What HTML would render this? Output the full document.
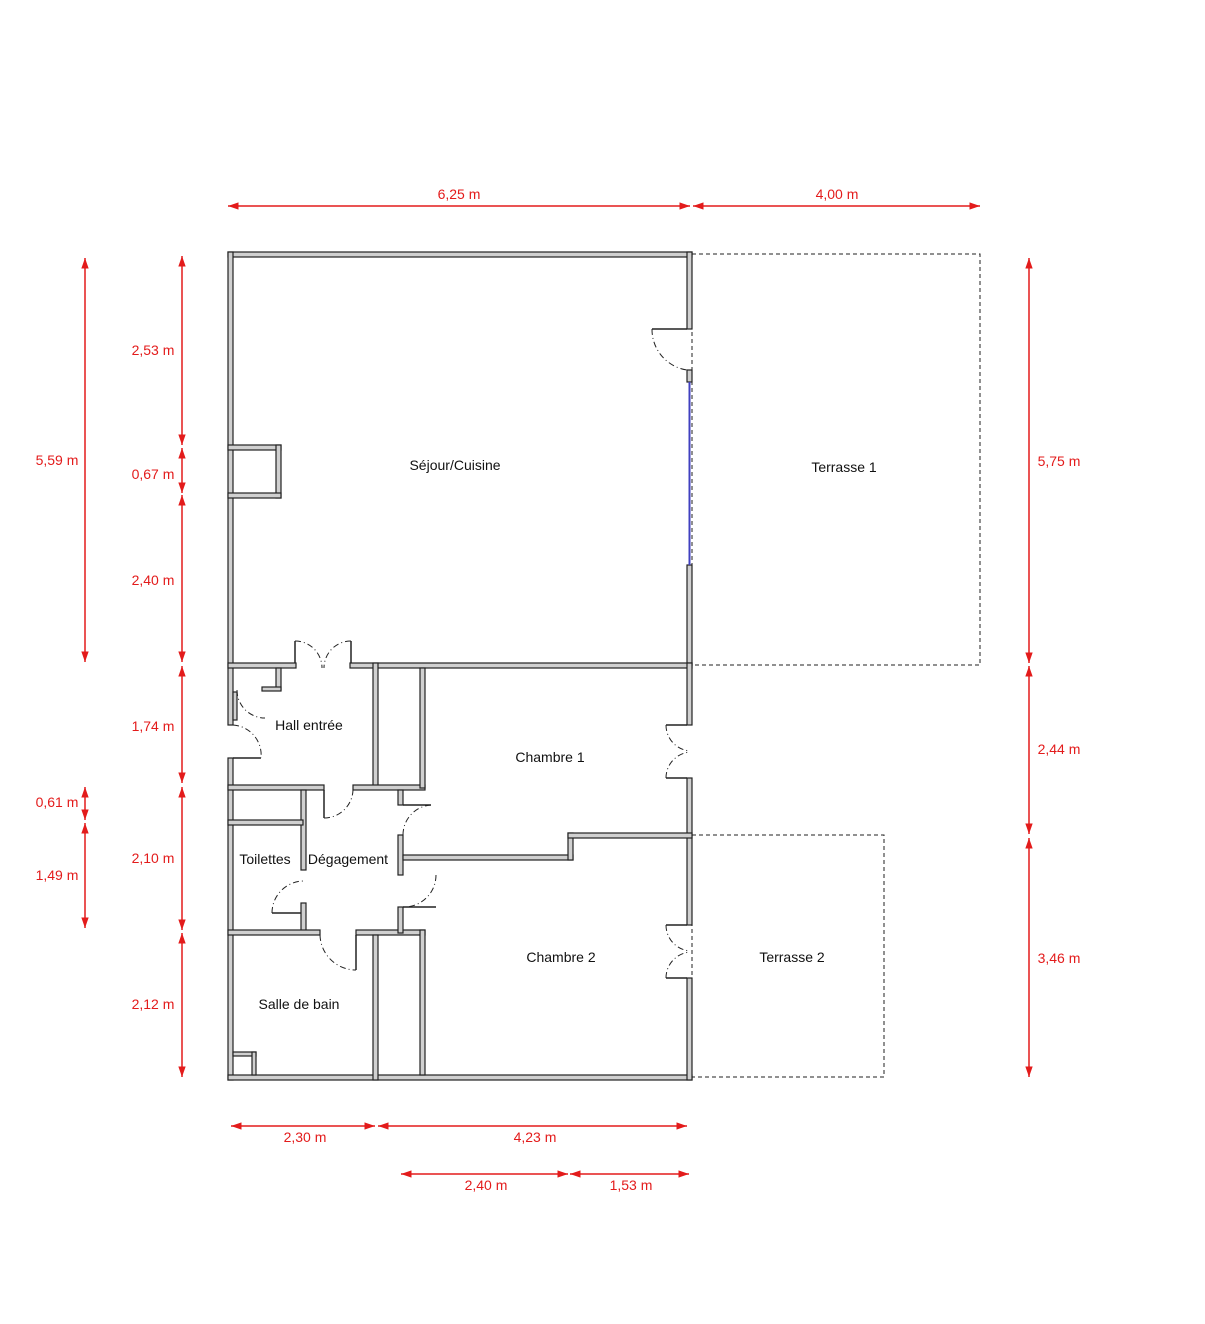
<!DOCTYPE html>
<html><head><meta charset="utf-8"><style>
html,body{margin:0;padding:0;background:#fff;}
svg{display:block;}
text{font-family:"Liberation Sans",sans-serif;font-size:14px;}
.d{fill:#e31b1b;}
</style></head><body>
<svg width="1205" height="1324" viewBox="0 0 1205 1324" xmlns="http://www.w3.org/2000/svg">
<defs>
<marker id="a" viewBox="0 0 10 10" refX="10" refY="5" markerWidth="7" markerHeight="7" orient="auto-start-reverse"><path d="M0,1.5 L10,5 L0,8.5 z" fill="#e31b1b"/></marker>
</defs>
<g fill="none" stroke="#222" stroke-dasharray="4,3" stroke-width="1">
<rect x="692" y="254" width="288" height="411"/>
<rect x="692" y="835" width="192" height="242"/>
</g>
<g fill="#d0d0d0" stroke="#222" stroke-width="1.2">
<rect x="228" y="252" width="464" height="5"/>
<rect x="228" y="252" width="5" height="473"/>
<rect x="228" y="758" width="5" height="322"/>
<rect x="228" y="1075" width="464" height="5"/>
<rect x="687" y="252" width="5" height="77"/>
<rect x="687" y="370" width="5" height="12"/>
<rect x="687" y="565" width="5" height="100"/>
<rect x="228" y="445" width="53" height="5"/>
<rect x="276" y="445" width="5" height="53"/>
<rect x="228" y="493" width="53" height="5"/>
<rect x="228" y="663" width="68" height="5"/>
<rect x="350" y="663" width="342" height="5"/>
<rect x="276" y="668" width="5" height="22"/>
<rect x="262" y="687" width="19" height="4"/>
<rect x="233" y="692" width="4" height="28"/>
<rect x="687" y="663" width="5" height="62"/>
<rect x="687" y="778" width="5" height="147"/>
<rect x="687" y="978" width="5" height="102"/>
<rect x="373" y="663" width="5" height="125"/>
<rect x="228" y="785" width="96" height="5"/>
<rect x="353" y="785" width="72" height="5"/>
<rect x="420" y="668" width="5" height="120"/>
<rect x="301" y="790" width="5" height="80"/>
<rect x="301" y="903" width="5" height="30"/>
<rect x="228" y="820" width="75" height="5"/>
<rect x="228" y="930" width="92" height="5"/>
<rect x="356" y="930" width="69" height="5"/>
<rect x="398" y="790" width="5" height="15"/>
<rect x="398" y="835" width="5" height="40"/>
<rect x="398" y="907" width="5" height="26"/>
<rect x="403" y="855" width="170" height="5"/>
<rect x="568" y="833" width="5" height="27"/>
<rect x="568" y="833" width="124" height="5"/>
<rect x="373" y="935" width="5" height="145"/>
<rect x="420" y="930" width="5" height="145"/>
<rect x="233" y="1052" width="23" height="4"/>
<rect x="252" y="1052" width="4" height="23"/>
</g>
<line x1="689.5" y1="382" x2="689.5" y2="565" stroke="#4040c0" stroke-width="2"/>
<g stroke="#222" stroke-width="1.5" fill="none">
<line x1="652" y1="329" x2="687" y2="329"/>
<line x1="295" y1="641" x2="295" y2="663"/><line x1="351" y1="641" x2="351" y2="663"/>
<line x1="233" y1="758" x2="261" y2="758"/>
<line x1="324" y1="790" x2="324" y2="818"/>
<line x1="403" y1="805" x2="431" y2="805"/>
<line x1="403" y1="907" x2="436" y2="907"/>
<line x1="272" y1="913" x2="301" y2="913"/>
<line x1="356" y1="935" x2="356" y2="970"/>
<line x1="666" y1="725" x2="687" y2="725"/><line x1="666" y1="778" x2="687" y2="778"/>
<line x1="666" y1="925" x2="687" y2="925"/><line x1="666" y1="978" x2="687" y2="978"/>
</g>
<g stroke="#222" stroke-width="1" fill="none" stroke-dasharray="6,3,1,3">
<path d="M652,329 A41,41 0 0 0 687,370"/>
<path d="M295,641 A27,27 0 0 1 322,668"/><path d="M351,641 A27,27 0 0 0 324,668"/>
<path d="M233,725 A30,30 0 0 1 261,758"/>
<path d="M324,818 A29,29 0 0 0 353,790"/>
<path d="M431,805 A30,30 0 0 0 403,835"/>
<path d="M436,875 A32,32 0 0 1 403,907"/>
<path d="M272,913 A32,32 0 0 1 304,881"/>
<path d="M320,935 A36,36 0 0 0 356,970"/>
<path d="M666,725 A26,26 0 0 0 690,751"/><path d="M666,778 A26,26 0 0 1 690,752"/>
<path d="M666,925 A26,26 0 0 0 690,951"/><path d="M666,978 A26,26 0 0 1 690,952"/>
<path d="M237,690 A28,28 0 0 0 265,718"/>
</g>
<g fill="#111">
<text x="455" y="470" text-anchor="middle">Séjour/Cuisine</text>
<text x="844" y="472" text-anchor="middle">Terrasse 1</text>
<text x="309" y="730" text-anchor="middle">Hall entrée</text>
<text x="550" y="762" text-anchor="middle">Chambre 1</text>
<text x="265" y="864" text-anchor="middle">Toilettes</text>
<text x="348" y="864" text-anchor="middle">Dégagement</text>
<text x="561" y="962" text-anchor="middle">Chambre 2</text>
<text x="792" y="962" text-anchor="middle">Terrasse 2</text>
<text x="299" y="1009" text-anchor="middle">Salle de bain</text>
</g>
<g stroke="#e31b1b" stroke-width="1.5" marker-start="url(#a)" marker-end="url(#a)">
<line x1="228" y1="206" x2="690" y2="206"/>
<line x1="693" y1="206" x2="980" y2="206"/>
<line x1="182" y1="256" x2="182" y2="445"/>
<line x1="182" y1="448" x2="182" y2="493"/>
<line x1="182" y1="495" x2="182" y2="662"/>
<line x1="182" y1="666" x2="182" y2="783"/>
<line x1="182" y1="787" x2="182" y2="930"/>
<line x1="182" y1="933" x2="182" y2="1077"/>
<line x1="85" y1="258" x2="85" y2="662"/>
<line x1="85" y1="787" x2="85" y2="820"/>
<line x1="85" y1="823" x2="85" y2="928"/>
<line x1="1029" y1="258" x2="1029" y2="663"/>
<line x1="1029" y1="666" x2="1029" y2="834"/>
<line x1="1029" y1="838" x2="1029" y2="1077"/>
<line x1="231" y1="1126" x2="375" y2="1126"/>
<line x1="378" y1="1126" x2="687" y2="1126"/>
<line x1="401" y1="1174" x2="568" y2="1174"/>
<line x1="570" y1="1174" x2="689" y2="1174"/>
</g>
<g class="d">
<text x="459" y="199" text-anchor="middle">6,25 m</text>
<text x="837" y="199" text-anchor="middle">4,00 m</text>
<text x="153" y="355" text-anchor="middle">2,53 m</text>
<text x="153" y="479" text-anchor="middle">0,67 m</text>
<text x="153" y="585" text-anchor="middle">2,40 m</text>
<text x="153" y="731" text-anchor="middle">1,74 m</text>
<text x="153" y="863" text-anchor="middle">2,10 m</text>
<text x="153" y="1009" text-anchor="middle">2,12 m</text>
<text x="57" y="465" text-anchor="middle">5,59 m</text>
<text x="57" y="807" text-anchor="middle">0,61 m</text>
<text x="57" y="880" text-anchor="middle">1,49 m</text>
<text x="1059" y="466" text-anchor="middle">5,75 m</text>
<text x="1059" y="754" text-anchor="middle">2,44 m</text>
<text x="1059" y="963" text-anchor="middle">3,46 m</text>
<text x="305" y="1142" text-anchor="middle">2,30 m</text>
<text x="535" y="1142" text-anchor="middle">4,23 m</text>
<text x="486" y="1190" text-anchor="middle">2,40 m</text>
<text x="631" y="1190" text-anchor="middle">1,53 m</text>
</g>
</svg>
</body></html>
